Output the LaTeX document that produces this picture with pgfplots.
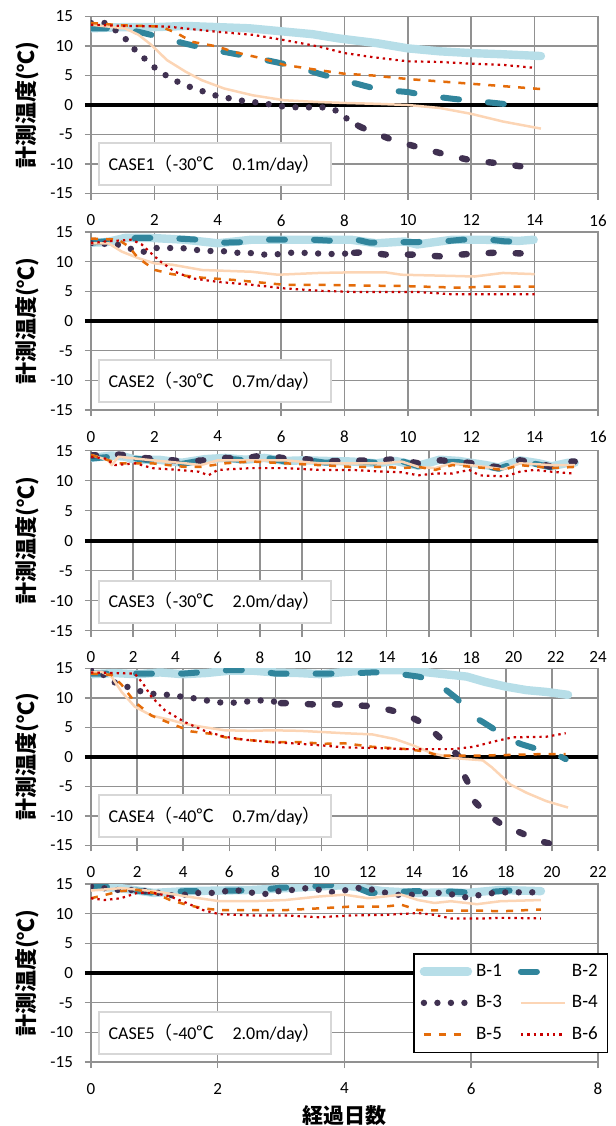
\documentclass[border=0pt]{standalone}
\usepackage{fontspec}
\setmainfont{Carlito}
\newfontfamily\cjk{Noto Sans CJK JP}
\usepackage{pgfplots}
\pgfplotsset{compat=1.18}

\definecolor{gridgray}{RGB}{145,145,145}
\definecolor{boxgray}{RGB}{215,215,215}
\definecolor{cB1}{RGB}{183,222,232}
\definecolor{cB2}{RGB}{49,133,156}
\definecolor{cB3}{RGB}{64,49,81}
\definecolor{cB4}{RGB}{252,213,181}
\definecolor{cB5}{RGB}{228,108,10}
\definecolor{cB6}{RGB}{200,0,0}

% label box in the lower left of each panel
\newcommand{\casebox}[1]{\node[draw=boxgray, line width=1pt, fill=white, anchor=south west,
  minimum width=116pt, minimum height=21pt, font=\fontsize{9}{10}\selectfont]
  at (axis description cs:0.013,0.04) {#1};}

\pgfplotsset{
  panel/.style={
    scale only axis, width=253.5pt,
    xmin=0, ymin=-15, ymax=15, ytick={-15,-10,...,15}, xtick distance=2,
    xtick pos=bottom, ytick pos=left,
    tick align=outside, major tick length=3pt,
    grid=major, grid style={gridgray, line width=0.75pt},
    axis line style={gridgray, line width=0.75pt},
    tick style={gridgray, line width=0.75pt},
    tick label style={font=\fontsize{8.5}{10}\selectfont},
    xticklabel style={yshift=-4pt},
    yticklabel style={xshift=-2.5pt},
    /pgf/number format/assume math mode=true,
    extra y ticks={0}, extra y tick labels={},
    extra y tick style={grid style={black, line width=2pt}, tick style={black, line width=2pt}},
    ylabel={{\cjk\bfseries 計測温度(℃)}},
    every axis y label/.style={at={(axis description cs:0,0.5)}, xshift=-32pt,
      rotate=90, anchor=center, font=\fontsize{11}{12}\selectfont},
    legend image code/.code={\draw[##1] (0pt,0pt) -- (22pt,0pt);},
  },
  b1/.style={color=cB1, line width=4.2pt, line cap=round, line join=round},
  b2/.style={color=cB2, line width=3pt, line cap=round, line join=round, dash pattern=on 8pt off 14.5pt},
  b3/.style={color=cB3, line width=3.2pt, line cap=round, line join=round, dash pattern=on 0pt off 6.75pt},
  b3d/.style={color=cB3, line width=3.2pt, line cap=round, line join=round, dash pattern=on 2.5pt off 11pt},
  b4/.style={color=cB4, line width=1.25pt, line join=round},
  b5/.style={color=cB5, line width=1.25pt, dash pattern=on 3.5pt off 4pt},
  b6/.style={color=cB6, line width=1.1pt, dash pattern=on 1.2pt off 2pt},
}

\begin{document}
\begin{tikzpicture}

% CASE1
\begin{axis}[panel, at={(45.5pt,-8.25pt)}, anchor=north west, height=88.5pt, xmax=16]
\addplot[b1] coordinates {(0,13.0)(1,13.2)(2,13.2)(3,13.4)(4,13.2)(5,13.0)(6,12.5)(7,12.0)(7.8,11.3)(9,10.5)(10,9.6)(11,9.1)(12,8.8)(13,8.6)(14.2,8.3)};
\addplot[b2] coordinates {(0,13)(0.8,13)(1.5,12.4)(2.2,11.5)(2.9,10.5)(3.6,9.6)(4.3,8.9)(5,8.2)(5.8,7.3)(6.5,6.5)(7.2,5.3)(7.9,4.3)(8.6,3.3)(9.1,2.6)(10,2.2)(10.6,1.6)(11.5,1.0)(12.1,0.7)(13,0.2)(13.6,-0.4)};
\addplot[b3] coordinates {(0,13.9)(0.47,13.9)(0.84,12.4)(1.15,10.9)(1.44,9.0)(1.75,7.6)(2.06,6.1)(2.4,4.9)(2.8,3.75)(3.2,2.9)(3.6,2.2)(4.0,1.5)(4.4,1.1)(4.8,0.7)(5.2,0.45)(5.66,0.1)(6.1,-0.3)(6.5,-0.4)(6.9,-0.4)(7.3,-0.4)(7.7,-0.85)(8.1,-2.4)(8.46,-3.6)};
\addplot[b3d] coordinates {(8.46,-3.6)(8.83,-4.5)(9.56,-6)(10.35,-7.2)(11.2,-8.4)(12.0,-9.4)(12.9,-9.9)(13.7,-10.5)};
\addplot[b4] coordinates {(0,13.6)(1.07,13)(1.5,11.9)(1.9,10.2)(2.4,7.6)(3.0,5.6)(3.5,4.2)(4.2,2.8)(5.1,1.65)(6.1,0.8)(7.2,0.5)(8,0.35)(9,0.2)(10,0)(11,-0.5)(12,-1.5)(13,-2.8)(14.2,-4)};
\addplot[b5] coordinates {(0,13.9)(1,13.5)(2.2,13.3)(2.7,12.2)(3.2,10.7)(4,9.9)(4.5,9)(5.4,7.9)(6.1,6.8)(7.2,5.9)(8,5.3)(8.9,5.0)(10,4.4)(11,4.0)(12,3.6)(13,3.2)(14.2,2.7)};
\addplot[b6] coordinates {(0,13.6)(1,13.4)(2.4,13.3)(4,12.4)(5.1,11.9)(6.1,11)(7.2,9.9)(8,8.8)(8.9,8.1)(10,7.4)(11,7.3)(12,7.0)(13,6.8)(14,6.3)};
\casebox{CASE1{\cjk （}-30{\cjk ℃　}0.1m/day{\cjk ）}}
\end{axis}

% CASE2
\begin{axis}[panel, at={(45.5pt,-116pt)}, anchor=north west, height=89pt, xmax=16]
\addplot[b1] coordinates {(0,13.2)(0.5,13.3)(1.07,14)(1.9,14)(2.97,13.7)(4.0,13.1)(5.07,13.7)(6.1,13.7)(7.2,13.7)(8.2,13.7)(9.0,13.1)(9.9,13.4)(10.3,12.9)(11.4,13.7)(12.4,13.7)(13.5,13.5)(13.97,13.7)};
\addplot[b2] coordinates {(0,13.2)(0.6,13.5)(1.1,13.1)(1.4,14)(2.0,14)(2.7,13.9)(3.4,13.7)(4.1,13.2)(4.9,13.3)(5.5,13.7)(6.3,13.7)(7,13.7)(7.7,13.5)(8.3,13.8)(8.8,13.2)(9.7,13.3)(10.2,13.3)(11.1,13.4)(11.7,13.7)(12.6,13.7)(13.1,13.4)(14,13.5)};
\addplot[b3] coordinates {(0,13.1)(0.44,13)(0.81,12.9)(1.23,12.2)(1.62,11.6)(2.02,12.3)(2.44,12.3)(2.86,12.3)(3.28,12)(3.7,11.8)(4.13,11.8)(4.55,11.5)(4.97,11.5)(5.39,11.2)(5.81,11.2)(6.23,11.5)(6.65,11.5)(7.07,11.4)(7.49,11.3)(7.92,11.3)(8.3,11.5)};
\addplot[b3d] coordinates {(8.3,11.5)(8.7,11.6)(9.28,11.2)(10.13,11.2)(11.02,10.9)(11.92,11.3)(12.7,11.5)(13.55,11.4)(13.9,11.4)};
\addplot[b4] coordinates {(0,13.1)(0.55,13.1)(0.97,11.7)(1.49,10.6)(2.02,9.7)(2.55,9.5)(3.5,8.6)(5.07,8.3)(5.9,7.8)(7.2,8.1)(8.2,8.2)(9.3,8.2)(9.8,7.8)(11.4,7.6)(12.1,7.5)(13,8.1)(14,7.9)};
\addplot[b5] coordinates {(0,13.9)(0.86,13.7)(1.18,12.6)(1.49,10.6)(2.02,8.6)(2.55,7.9)(3.5,7.3)(4.55,6.9)(6.1,6.1)(7.2,6.1)(8.2,6.0)(9.8,5.9)(11.7,5.6)(12.4,5.8)(14,5.8)};
\addplot[b6] coordinates {(0,13.1)(0.44,13.4)(1.28,13.7)(1.6,12.9)(1.9,11.4)(2.2,10.0)(2.65,8.3)(3.18,7.2)(4.0,6.6)(5.07,6.1)(6.1,5.5)(7.2,5.1)(8.2,4.9)(10.3,4.9)(11.4,4.5)(14,4.5)};
\casebox{CASE2{\cjk （}-30{\cjk ℃　}0.7m/day{\cjk ）}}
\end{axis}

% CASE3
\begin{axis}[panel, at={(45.5pt,-225.35pt)}, anchor=north west, height=90pt, xmax=24]
\addplot[b1] coordinates {(0,13.8)(0.98,14.2)(1.6,14.0)(2.1,13.5)(3.2,13.5)(4.3,13.0)(5.4,13.6)(6.35,13.8)(7.3,13.5)(8.2,13.8)(9.2,13.3)(10.1,13.4)(11.1,13.3)(12.35,13.2)(13.5,12.9)(14.4,13.3)(15.5,12.5)(16.5,13.5)(17.4,13.3)(18.7,12.6)(19.3,12.2)(20.3,13.4)(21.2,12.9)(21.8,12.4)(22.6,13.0)(22.9,13.0)};
\addplot[b2] coordinates {(0,13.7)(0.98,14.0)(1.6,13.6)(2.1,13.7)(3.2,13.2)(4.3,12.8)(5.4,13.5)(6.35,13.7)(7.3,13.4)(8.2,13.9)(9.2,13.2)(10.1,13.5)(11.1,13.0)(12.35,13.3)(13.5,13.0)(14.4,13.6)(15.5,12.4)(16.5,13.2)(17.4,13.1)(18.7,12.4)(19.3,12.0)(20.3,13.2)(21.2,12.7)(21.8,12.2)(22.6,12.9)(22.9,12.8)};
\addplot[b3d] coordinates {(0,14.2)(0.98,14.4)(1.6,14.3)(2.1,13.8)(3.2,13.7)(4.3,13.2)(5.4,13.4)(6.35,13.8)(7.3,13.7)(8.2,14.3)(9.2,13.7)(10.1,13.6)(11.1,13.2)(12.35,13.4)(13.5,13.3)(14.4,13.6)(15.5,12.9)(16.5,13.4)(17.4,13.2)(18.7,12.6)(19.3,12.2)(20.3,13.4)(21.2,12.9)(21.8,12.3)(22.6,13.2)(22.9,13.2)};
\addplot[b4] coordinates {(0,14.3)(0.82,13.4)(0.98,12.6)(1.3,14.0)(2.9,13.4)(4.45,12.9)(5.2,12.6)(6.0,13.4)(7.6,13.4)(9.2,13.4)(10.8,12.9)(12.35,12.9)(13.9,12.9)(14.7,13.2)(15.5,12.3)(16.3,12.1)(17.1,12.9)(18.7,12.3)(19.5,11.9)(20.3,12.9)(21.8,12.6)(22.9,12.6)};
\addplot[b5] coordinates {(0,14.3)(1.3,12.9)(2.9,12.9)(4.45,12.3)(5.2,12.3)(6.35,12.9)(7.6,13.2)(9.2,12.9)(10.8,12.6)(12.35,12.3)(13.9,12.3)(14.7,12.1)(15.5,12.3)(16.3,11.8)(17.1,12.6)(18.7,12.1)(19.5,11.8)(20.3,12.6)(21.8,12.1)(22.9,12.3)};
\addplot[b6] coordinates {(0,14)(0.66,13.7)(1.14,12.6)(2.1,12.9)(2.9,12.1)(4.1,11.8)(5.1,11.5)(5.56,10.9)(6.0,11.8)(7.6,12.1)(9.2,12.1)(10.8,11.8)(12.35,11.8)(13.9,11.5)(14.7,11.4)(15.5,10.9)(16.3,11.2)(17.1,11.2)(17.9,11.8)(18.4,10.9)(19.6,10.7)(20.3,11.5)(21.0,11.8)(21.8,11.5)(22.8,11.2)};
\casebox{CASE3{\cjk （}-30{\cjk ℃　}2.0m/day{\cjk ）}}
\end{axis}

% CASE4
\begin{axis}[panel, at={(45.5pt,-334.15pt)}, anchor=north west, height=88.5pt, xmax=22]
\addplot[b1] coordinates {(0,14.0)(1,14.2)(2,14.0)(3,14.3)(4,14.0)(5,14.2)(6,14.6)(7,14.6)(8,14.3)(9,14.2)(10,14.0)(10.8,14.3)(12.2,14.7)(13.7,14.7)(15.1,14.1)(16.3,13.6)(17.1,12.7)(18,11.9)(18.9,11.3)(19.75,11)(20.7,10.5)};
\addplot[b2] coordinates {(0,14.1)(2,14.1)(4,14.1)(6,14.7)(7,14.7)(8,14.1)(10,14.1)(11,14.1)(12.2,14.3)(12.9,14.3)(14.2,13.6)(14.9,12.9)(15.9,9.8)(16.3,7.9)(16.6,6.8)(17,5.9)(18.3,2.7)(18.7,2.1)(20.3,0.2)(20.6,-0.4)};
\addplot[b3] coordinates {(0,14.7)(0.46,14.1)(0.97,12.7)(1.47,12)(1.97,11.3)(2.55,10.7)(3.13,10.6)(3.7,10.3)(4.2,10.1)(4.8,9.7)(5.36,9.3)(5.94,9.1)(6.6,9.3)(7.1,9.5)(7.67,9.6)(8.24,9.1)};
\addplot[b3d] coordinates {(8.24,9.1)(8.75,9.1)(9.54,8.9)(9.97,8.9)(10.98,8.9)(11.6,8.7)(12.1,8.6)(12.9,8.0)(13.3,7.6)(14,6.5)(14.3,5.9)(14.9,4.1)(15.2,3.0)(15.8,0.7)(16,-0.1)(16.2,-3.2)(16.4,-4.7)(16.6,-7.4)(17.1,-9.4)(17.9,-11.7)(18.6,-12.8)(19.5,-14.3)(20.1,-14.9)};
\addplot[b4] coordinates {(0,14.3)(0.46,14.4)(0.89,13.6)(1.33,11)(1.9,8.5)(2.62,7)(3.49,6.2)(4.06,5.6)(4.78,5.1)(5.79,4.5)(6.95,4.4)(7.8,4.5)(9.1,4.4)(10.98,4.0)(12.2,3.8)(13.2,3.0)(14,1.9)(14.8,0.6)(15.7,-0.2)(17,-0.6)(17.4,-1.8)(18.2,-4.7)(18.9,-6.1)(19.75,-7.5)(20.7,-8.6)};
\addplot[b5] coordinates {(0,14.1)(0.89,13.9)(1.33,12.2)(1.9,9.3)(2.62,7)(3.49,5.6)(4.35,4.3)(5.2,3.9)(5.94,3.2)(6.95,2.8)(7.8,2.5)(9.1,2.5)(10.1,2.2)(10.98,2.3)(12.2,1.7)(13.7,1.3)(14.5,0.9)(15.1,0.2)(16.6,0.2)(18,0.3)(19.5,0.45)(20.6,0.45)};
\addplot[b6] coordinates {(0,14.3)(1.9,14.1)(2.26,12.4)(2.62,10.2)(3.2,7.9)(4.06,5.9)(4.93,4.4)(5.79,3.4)(6.66,2.9)(7.8,2.5)(9.1,2.2)(10.1,1.9)(10.98,1.6)(12.2,1.5)(13.7,1.3)(15.1,1.3)(15.7,1.3)(16.6,1.7)(17.6,2.7)(18.3,3.3)(19.75,3.4)(20.6,4.0)};
\casebox{CASE4{\cjk （}-40{\cjk ℃　}0.7m/day{\cjk ）}}
\end{axis}

% CASE5
\begin{axis}[panel, at={(45.5pt,-442pt)}, anchor=north west, height=89pt, xmax=8,
  xlabel={{\cjk\bfseries 経過日数}},
  every axis x label/.style={at={(axis description cs:0.5,0)}, yshift=-27pt, anchor=center,
    font=\fontsize{10.5}{12}\selectfont},
  legend columns=2,
  legend style={at={(axis description cs:0.635,0.612)}, anchor=north west, draw=black,
    line width=0.8pt, fill=white, font=\fontsize{9.5}{11}\selectfont,
    inner xsep=3pt, inner ysep=3pt, row sep=4pt,
    /tikz/every even column/.append style={column sep=6pt}},
  legend cell align=left]
\addplot[b1] coordinates {(0,14.6)(0.47,14.3)(0.99,13.5)(1.51,13.8)(2.03,13.9)(2.55,14)(3.07,14.3)(3.6,14.6)(4.0,14.8)(4.6,13.8)(5.16,13.5)(5.68,13.6)(5.94,13.5)(6.46,14)(7.1,13.8)};
\addplot[b2] coordinates {(0,14.6)(0.2,14.6)(0.5,14.2)(0.99,13.5)(1.5,13.8)(1.9,13.8)(2.2,13.9)(2.6,13.9)(3.0,14.4)(3.3,14.4)(3.7,14.8)(4.1,14.8)(4.4,13.5)(4.6,13.5)(5.1,13.8)(5.5,13.8)(5.9,13.6)(6.2,13.6)(6.6,13.9)(7.0,13.8)};
\addplot[b3] coordinates {(0,14.6)(0.2,14.3)(0.42,14)(0.63,14)(0.86,13.8)(1.07,13.5)(1.28,13.1)(1.48,13.2)(1.7,13.5)(1.92,13.5)(2.14,13.8)(2.35,13.9)(2.56,13.5)(2.79,13.3)(3.0,13.9)(3.2,14)(3.4,14.3)(3.62,14)(3.83,13.6)(4.04,14)(4.26,14.4)(4.47,14)(4.66,13.5)(4.89,13.1)(5.09,13.2)(5.3,13.5)(5.5,13.5)(5.73,13.2)(5.94,12.7)(6.15,13.2)(6.36,13.5)(6.57,13.6)(6.8,13.6)(7.0,13.6)};
\addplot[b4] coordinates {(0,13.9)(0.47,14.3)(0.99,13.8)(1.51,12.9)(2.03,12.1)(2.55,12.1)(3.07,12.3)(3.6,12.9)(4.0,13.2)(4.375,12.6)(4.9,13.2)(5.16,12.3)(5.42,11.8)(5.68,12.1)(6.09,11.6)(6.46,12.1)(7.1,12.3)};
\addplot[b5] coordinates {(0,12.6)(0.47,13.8)(0.73,14)(0.99,13.5)(1.25,12.3)(1.51,11.5)(1.77,10.9)(2.03,10.6)(2.55,10.6)(3.07,10.6)(3.6,10.9)(4.11,11.2)(4.64,11.2)(4.9,11.5)(5.16,10.6)(5.68,10.5)(6.2,10.5)(6.46,10.4)(7.1,10.7)};
\addplot[b6] coordinates {(0,12.6)(0.21,12.3)(0.47,12.6)(0.73,13.5)(0.99,13.5)(1.25,12.9)(1.51,11.8)(1.77,10.6)(2.03,9.9)(2.55,9.7)(3.07,9.7)(3.6,9.4)(4.11,9.7)(4.64,9.8)(5.16,10.1)(5.42,9.8)(5.68,9.2)(6.2,9.2)(6.46,9.3)(7.1,9.2)};
\legend{B-1,B-2,B-3,B-4,B-5,B-6}
\casebox{CASE5{\cjk （}-40{\cjk ℃　}2.0m/day{\cjk ）}}
\end{axis}

\pgfresetboundingbox
\path[use as bounding box] (0,0) rectangle (308pt,-563pt);
\end{tikzpicture}
\end{document}
